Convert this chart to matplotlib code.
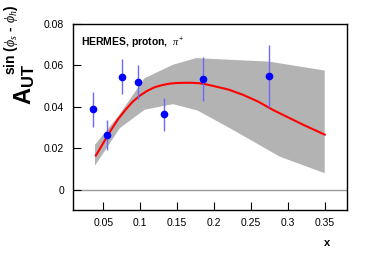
import matplotlib
matplotlib.use("Agg")
import matplotlib.pyplot as plt
import numpy as np

plt.rcParams["font.family"] = ["Liberation Sans", "DejaVu Sans"]
plt.rcParams["mathtext.fontset"] = "custom"
plt.rcParams["mathtext.rm"] = "Liberation Sans"
plt.rcParams["mathtext.bf"] = "Liberation Sans:bold"
plt.rcParams["mathtext.it"] = "Liberation Serif:italic"

# HERMES data points
x_data = [0.036, 0.055, 0.075, 0.097, 0.132, 0.185, 0.274]
y_data = [0.0389, 0.0265, 0.0545, 0.052, 0.0365, 0.0535, 0.055]
y_err = [0.0085, 0.0071, 0.0085, 0.008, 0.008, 0.0105, 0.015]

# model curve
x_curve = [0.04, 0.05, 0.06, 0.07, 0.08, 0.09, 0.10, 0.11, 0.12, 0.13, 0.14,
           0.15, 0.16, 0.17, 0.18, 0.19, 0.20, 0.22, 0.24, 0.26, 0.28, 0.30,
           0.32, 0.35]
y_curve = [0.0165, 0.0225, 0.0285, 0.0340, 0.0385, 0.0425, 0.0455, 0.0478,
           0.0495, 0.0505, 0.0512, 0.0515, 0.0516, 0.0516, 0.0514, 0.0508,
           0.0500, 0.0483, 0.0457, 0.0425, 0.0385, 0.0350, 0.0315, 0.0266]

# uncertainty band edges
x_upper = [0.0388, 0.07, 0.106, 0.1445, 0.176, 0.275, 0.35]
y_upper = [0.0217, 0.0353, 0.0538, 0.0603, 0.0635, 0.0618, 0.0575]
x_lower = [0.0388, 0.0725, 0.106, 0.1445, 0.178, 0.225, 0.289, 0.35]
y_lower = [0.0116, 0.0297, 0.0386, 0.0413, 0.0382, 0.029, 0.016, 0.008]

x_ticks = [0.05, 0.1, 0.15, 0.2, 0.25, 0.3, 0.35]
x_ticklabels = ["0.05", "0.1", "0.15", "0.2", "0.25", "0.3", "0.35"]
y_ticks = [0, 0.02, 0.04, 0.06, 0.08]
y_ticklabels = ["0", "0.02", "0.04", "0.06", "0.08"]

fig = plt.figure(figsize=(3.82, 2.6), dpi=100)
ax = fig.add_axes([0.19, 0.192, 0.718, 0.716])

band_x = list(x_upper) + list(x_lower[::-1])
band_y = list(y_upper) + list(y_lower[::-1])
ax.fill(band_x, band_y, color="#b3b3b3", lw=0, zorder=1)

ax.axhline(0, color="#999999", lw=1.0, zorder=1)
ax.plot(x_curve, y_curve, color="red", lw=1.5, zorder=3)

ax.errorbar(x_data, y_data, yerr=y_err, fmt="none", ecolor="#6a6aff",
            elinewidth=1.0, capsize=0, zorder=4)
ax.plot(x_data, y_data, "o", color="blue", ms=4.5, zorder=5)

ax.set_xlim(0.0085, 0.38)
ax.set_ylim(-0.0098, 0.08)
ax.set_xticks(x_ticks)
ax.set_xticklabels(x_ticklabels)
ax.set_yticks(y_ticks)
ax.set_yticklabels(y_ticklabels)
ax.tick_params(direction="in", labelsize=7.5, length=6, width=0.8, pad=6)
for s in ax.spines.values():
    s.set_linewidth(1.0)

ax.text(0.03, 0.9, r"HERMES, proton,  $\pi^{+}$", transform=ax.transAxes,
        fontsize=7.5, fontweight="bold", va="center", ha="left")

fig.text(327 / 382, 1 - 243 / 260, "x", fontsize=8, fontweight="bold",
         ha="center", va="center")
# y axis title: A_UT with the modulation as superscript
fig.text(25 / 382, 1 - 105 / 260, r"$\mathbf{A}_{\mathbf{UT}}$",
         rotation=90, fontsize=17, ha="center", va="bottom")
fig.text(11 / 382, 1 - 75 / 260, r"sin ($\phi_{s}$ - $\phi_{h}$)",
         rotation=90, fontsize=10, fontweight="bold", ha="center", va="bottom")

fig.savefig("out.png", dpi=100)
